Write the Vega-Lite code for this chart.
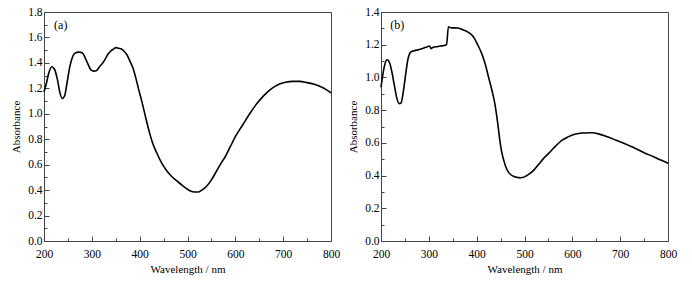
{
  "$schema": "https://vega.github.io/schema/vega-lite/v6.json",
  "padding": {"left": 10, "top": 5, "right": 10, "bottom": 5},
  "spacing": 6,
  "background": "white",
  "config": {
    "font": "Liberation Serif",
    "view": {"stroke": "#444", "strokeWidth": 1},
    "axis": {
      "labelFont": "Liberation Serif",
      "titleFont": "Liberation Serif",
      "labelFontSize": 11.5,
      "titleFontSize": 11,
      "titleFontWeight": "normal",
      "domainColor": "#444",
      "tickColor": "#444",
      "labelColor": "#000",
      "titleColor": "#000",
      "labelOverlap": false,
      "labelFlush": false,
      "tickCount": 100,
      "grid": false
    }
  },
  "hconcat": [
    {
      "width": 287,
      "height": 229,
      "layer": [
        {
          "data": {"values": [
            {"wl":200,"abs":1.17},{"wl":205,"abs":1.24},{"wl":210,"abs":1.32},{"wl":216,"abs":1.37},{"wl":222,"abs":1.35},
            {"wl":228,"abs":1.27},{"wl":233,"abs":1.17},{"wl":238,"abs":1.12},{"wl":243,"abs":1.14},{"wl":248,"abs":1.24},
            {"wl":254,"abs":1.37},{"wl":260,"abs":1.45},{"wl":266,"abs":1.48},{"wl":273,"abs":1.485},{"wl":280,"abs":1.48},
            {"wl":286,"abs":1.44},{"wl":292,"abs":1.39},{"wl":298,"abs":1.345},{"wl":304,"abs":1.335},{"wl":310,"abs":1.34},
            {"wl":316,"abs":1.37},{"wl":322,"abs":1.395},{"wl":328,"abs":1.43},{"wl":334,"abs":1.47},{"wl":340,"abs":1.495},
            {"wl":346,"abs":1.51},{"wl":350,"abs":1.52},{"wl":356,"abs":1.515},{"wl":362,"abs":1.51},{"wl":368,"abs":1.49},
            {"wl":374,"abs":1.46},{"wl":380,"abs":1.41},{"wl":386,"abs":1.36},{"wl":392,"abs":1.28},{"wl":398,"abs":1.19},
            {"wl":405,"abs":1.09},{"wl":412,"abs":0.98},{"wl":420,"abs":0.86},{"wl":428,"abs":0.76},{"wl":436,"abs":0.69},
            {"wl":445,"abs":0.62},{"wl":455,"abs":0.56},{"wl":465,"abs":0.515},{"wl":475,"abs":0.48},{"wl":485,"abs":0.45},
            {"wl":495,"abs":0.42},{"wl":505,"abs":0.395},{"wl":515,"abs":0.385},{"wl":522,"abs":0.385},{"wl":530,"abs":0.4},
            {"wl":540,"abs":0.43},{"wl":550,"abs":0.48},{"wl":560,"abs":0.545},{"wl":570,"abs":0.61},{"wl":580,"abs":0.67},
            {"wl":590,"abs":0.745},{"wl":600,"abs":0.82},{"wl":615,"abs":0.91},{"wl":630,"abs":1.0},{"wl":645,"abs":1.08},
            {"wl":660,"abs":1.145},{"wl":675,"abs":1.195},{"wl":690,"abs":1.23},{"wl":705,"abs":1.248},{"wl":720,"abs":1.255},
            {"wl":735,"abs":1.255},{"wl":750,"abs":1.245},{"wl":765,"abs":1.232},{"wl":780,"abs":1.21},{"wl":790,"abs":1.19},
            {"wl":800,"abs":1.165}
          ]},
          "mark": {"type": "line", "color": "#000", "strokeWidth": 1.6, "interpolate": "monotone"},
          "encoding": {
            "x": {"field": "wl", "type": "quantitative", "scale": {"domain": [200, 800], "nice": false},
              "axis": {"title": "Wavelength / nm", "values": [200,250,300,350,400,450,500,550,600,650,700,750,800],
                "tickCount": 100,
                "labelExpr": "datum.value % 100 === 0 ? datum.label : ''",
                "labelOverlap": false, "labelFlush": false,
                "tickSize": {"condition": {"test": "datum.value % 100 === 0", "value": -5}, "value": -3},
                "labelPadding": 12, "titlePadding": 2}},
            "y": {"field": "abs", "type": "quantitative", "scale": {"domain": [0, 1.8], "nice": false},
              "axis": {"title": "Absorbance", "values": [0,0.1,0.2,0.3,0.4,0.5,0.6,0.7,0.8,0.9,1.0,1.1,1.2,1.3,1.4,1.5,1.6,1.7,1.8],
                "tickCount": 100,
                "format": ".1f",
                "labelExpr": "round(datum.value*10) % 2 === 0 ? datum.label : ''",
                "labelOverlap": false, "labelFlush": false,
                "tickSize": {"condition": {"test": "round(datum.value*10) % 2 === 0", "value": -5}, "value": -3},
                "labelPadding": 7, "titlePadding": 6}}
          }
        },
        {
          "data": {"values": [{"wl": 235, "abs": 1.7, "t": "(a)"}]},
          "mark": {"type": "text", "fontSize": 12, "font": "Liberation Serif", "color": "#000"},
          "encoding": {
            "x": {"field": "wl", "type": "quantitative"},
            "y": {"field": "abs", "type": "quantitative"},
            "text": {"field": "t"}
          }
        }
      ]
    },
    {
      "width": 287,
      "height": 229,
      "layer": [
        {
          "data": {"values": [
            {"wl":200,"abs":0.94},{"wl":204,"abs":1.02},{"wl":208,"abs":1.08},{"wl":213,"abs":1.108},{"wl":218,"abs":1.09},
            {"wl":223,"abs":1.03},{"wl":228,"abs":0.95},{"wl":233,"abs":0.875},{"wl":238,"abs":0.84},{"wl":242,"abs":0.845},
            {"wl":247,"abs":0.92},{"wl":252,"abs":1.03},{"wl":257,"abs":1.12},{"wl":262,"abs":1.155},{"wl":268,"abs":1.162},
            {"wl":275,"abs":1.167},{"wl":282,"abs":1.172},{"wl":288,"abs":1.178},{"wl":292,"abs":1.183},{"wl":296,"abs":1.186},
            {"wl":300,"abs":1.192},{"wl":303,"abs":1.186},{"wl":305,"abs":1.175},{"wl":308,"abs":1.183},{"wl":312,"abs":1.186},
            {"wl":318,"abs":1.188},{"wl":324,"abs":1.192},{"wl":330,"abs":1.194},{"wl":334,"abs":1.197},{"wl":337,"abs":1.2},
            {"wl":341,"abs":1.31},{"wl":344,"abs":1.305},{"wl":348,"abs":1.303},{"wl":354,"abs":1.303},{"wl":360,"abs":1.302},
            {"wl":366,"abs":1.298},{"wl":372,"abs":1.29},{"wl":380,"abs":1.28},{"wl":388,"abs":1.265},{"wl":395,"abs":1.24},
            {"wl":402,"abs":1.2},{"wl":410,"abs":1.15},{"wl":418,"abs":1.08},{"wl":425,"abs":1.0},{"wl":432,"abs":0.92},
            {"wl":438,"abs":0.84},{"wl":444,"abs":0.72},{"wl":448,"abs":0.625},{"wl":452,"abs":0.55},{"wl":457,"abs":0.49},
            {"wl":462,"abs":0.445},{"wl":468,"abs":0.415},{"wl":475,"abs":0.398},{"wl":483,"abs":0.39},{"wl":492,"abs":0.387},
            {"wl":500,"abs":0.392},{"wl":510,"abs":0.41},{"wl":520,"abs":0.435},{"wl":530,"abs":0.47},{"wl":540,"abs":0.505},
            {"wl":552,"abs":0.54},{"wl":565,"abs":0.58},{"wl":578,"abs":0.615},{"wl":590,"abs":0.635},{"wl":605,"abs":0.652},
            {"wl":620,"abs":0.66},{"wl":640,"abs":0.662},{"wl":655,"abs":0.655},{"wl":670,"abs":0.64},{"wl":690,"abs":0.618},
            {"wl":710,"abs":0.595},{"wl":730,"abs":0.568},{"wl":750,"abs":0.54},{"wl":770,"abs":0.515},{"wl":785,"abs":0.495},
            {"wl":800,"abs":0.476}
          ]},
          "mark": {"type": "line", "color": "#000", "strokeWidth": 1.6, "interpolate": "monotone"},
          "encoding": {
            "x": {"field": "wl", "type": "quantitative", "scale": {"domain": [200, 800], "nice": false},
              "axis": {"title": "Wavelength / nm", "values": [200,250,300,350,400,450,500,550,600,650,700,750,800],
                "tickCount": 100,
                "labelExpr": "datum.value % 100 === 0 ? datum.label : ''",
                "labelOverlap": false, "labelFlush": false,
                "tickSize": {"condition": {"test": "datum.value % 100 === 0", "value": -5}, "value": -3},
                "labelPadding": 12, "titlePadding": 2}},
            "y": {"field": "abs", "type": "quantitative", "scale": {"domain": [0, 1.4], "nice": false},
              "axis": {"title": "Absorbance", "values": [0,0.1,0.2,0.3,0.4,0.5,0.6,0.7,0.8,0.9,1.0,1.1,1.2,1.3,1.4],
                "tickCount": 100,
                "format": ".1f",
                "labelExpr": "round(datum.value*10) % 2 === 0 ? datum.label : ''",
                "labelOverlap": false, "labelFlush": false,
                "tickSize": {"condition": {"test": "round(datum.value*10) % 2 === 0", "value": -5}, "value": -3},
                "labelPadding": 7, "titlePadding": 6}}
          }
        },
        {
          "data": {"values": [{"wl": 234, "abs": 1.323, "t": "(b)"}]},
          "mark": {"type": "text", "fontSize": 12, "font": "Liberation Serif", "color": "#000"},
          "encoding": {
            "x": {"field": "wl", "type": "quantitative"},
            "y": {"field": "abs", "type": "quantitative"},
            "text": {"field": "t"}
          }
        }
      ]
    }
  ]
}
